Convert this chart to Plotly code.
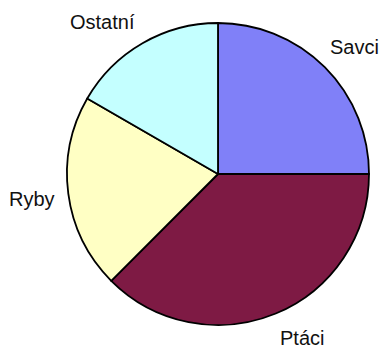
import plotly.graph_objects as go

# Share of species by animal group
categories = ["Savci", "Ptáci", "Ryby", "Ostatní"]
values = [6, 9, 5, 4]
colors = ["#8080F8", "#7E1A44", "#FFFFC4", "#C4FFFF"]

W, H = 384, 349
cx, cy, r = 218, 174, 151

fig = go.Figure(
    go.Pie(
        labels=categories,
        values=values,
        sort=False,
        direction="clockwise",
        rotation=0,
        marker=dict(colors=colors, line=dict(color="#000000", width=1.8)),
        textinfo="none",
        hoverinfo="label+percent",
        showlegend=False,
        domain=dict(
            x=[(cx - r) / W, (cx + r) / W],
            y=[1 - (cy + r) / H, 1 - (cy - r) / H],
        ),
    )
)

# Category labels placed around the rim
label_pos = {"Savci": (354, 47), "Ptáci": (302, 338), "Ryby": (32, 199), "Ostatní": (102, 22)}
for name in categories:
    px, py = label_pos[name]
    fig.add_annotation(
        x=px / W, y=1 - py / H, xref="paper", yref="paper",
        text=name, showarrow=False, xanchor="center", yanchor="middle",
        font=dict(family="Liberation Sans, Arial, sans-serif", size=20, color="#111111"),
    )

fig.update_layout(
    width=W, height=H,
    margin=dict(l=0, r=0, t=0, b=0),
    paper_bgcolor="white", plot_bgcolor="white",
)

fig.write_html("out.html")
